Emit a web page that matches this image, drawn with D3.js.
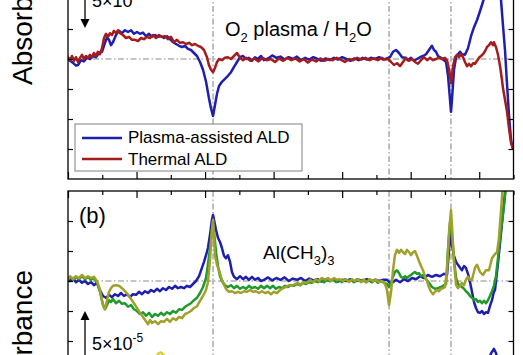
<!DOCTYPE html>
<html><head><meta charset="utf-8">
<script src="https://cdn.jsdelivr.net/npm/d3@7"></script>
<style>
html,body{margin:0;padding:0;background:#fff;overflow:hidden}
svg{display:block}
text{font-family:"Liberation Sans",Arial,Helvetica,sans-serif;fill:#000}
</style>
</head><body>
<svg id="chart" width="523" height="355"></svg>
<script>
// ---------- data ----------
const xDomain = [4000, 750];               // wavenumber (cm^-1)
const majorTicks = [4000, 3500, 3000, 2500, 2000, 1500, 1000];
const minorTicks = [3750, 3250, 2750, 2250, 1750, 1250, 750];
const yDomainA = [-10, 6.5];               // absorbance, units of 1e-5
const yDomainB = [-7.5, 7.5];
const yTicksA = [2.5, 0, -2.5, -5, -7.5];
const yTicksB = [5, 2.5, 0, -2.5, -5];
const markerWavenumbers = [2942, 1658, 1206];
const legendLabels = ["Plasma-assisted ALD", "Thermal ALD"];
const scaleBarLabel = "5\u00d710";
const scaleBarExp = "-5";

// panel (a): O2 plasma / H2O
const plasmaA = [[4000,0],[3985,-0.15],[3965,-0.3],[3942,-0.55],[3927,-0.5],[3905,-0.1],[3884,-0.2],[3862,0.1],[3840,0],[3818,0.25],[3796,0.15],[3774,0.5],[3752,0.6],[3730,1.35],[3715,1.8],[3701,1.6],[3686,1.15],[3672,1.4],[3650,2.0],[3628,2.35],[3606,2.15],[3584,2.4],[3562,2.25],[3540,2.4],[3519,2.1],[3497,2.25],[3475,2.1],[3453,2.2],[3431,1.9],[3409,2.1],[3387,1.85],[3365,2.0],[3343,1.85],[3322,1.9],[3300,1.75],[3278,1.9],[3256,1.65],[3234,1.4],[3212,1.25],[3190,1.1],[3168,1.0],[3146,1.1],[3125,0.85],[3103,0.75],[3081,0.5],[3059,0.25],[3037,-0.25],[3015,-0.9],[2993,-1.9],[2972,-3.25],[2957,-4.1],[2942,-4.75],[2928,-3.85],[2913,-2.9],[2898,-2.25],[2877,-1.9],[2855,-1.65],[2833,-1.4],[2811,-1.1],[2789,-0.65],[2767,-0.25],[2745,0.15],[2723,0.25],[2702,0],[2680,0.1],[2658,-0.15],[2636,0.15],[2614,0],[2592,0.25],[2570,-0.1],[2540,0.05],[2510,0.3],[2480,0.1],[2450,0.2],[2420,-0.05],[2390,0.15],[2360,0],[2330,0.2],[2300,-0.1],[2270,0.1],[2240,-0.05],[2210,0.15],[2180,0],[2150,-0.15],[2120,0.05],[2090,-0.1],[2060,0.1],[2030,-0.05],[2000,0.15],[1970,0],[1940,-0.15],[1910,0.05],[1880,-0.1],[1850,0.1],[1820,-0.05],[1790,0.1],[1760,0],[1730,0.15],[1700,-0.05],[1675,0.05],[1651,0.15],[1629,0.6],[1607,0.75],[1585,0.5],[1563,0.15],[1541,0.1],[1520,-0.1],[1498,0.1],[1476,-0.15],[1454,0],[1432,0.15],[1410,0.25],[1388,0.4],[1367,0.75],[1345,1.1],[1330,0.75],[1315,0.6],[1301,0.25],[1279,0.1],[1257,-0.1],[1242,-0.25],[1228,-1.35],[1213,-3.4],[1206,-4.4],[1199,-3.4],[1184,-0.9],[1169,0.15],[1155,0.4],[1140,0.6],[1126,0.4],[1104,0.35],[1082,0.9],[1060,1.9],[1038,2.65],[1016,3.25],[994,4.0],[973,4.75],[951,5.6],[922,6.6],[893,7.0],[863,6.25],[841,4.9],[827,2.85],[812,0.75],[797,-2.15],[783,-4.65],[768,-6.75],[757,-7.4]];

const thermalA = [[4000,0.15],[3985,-0.1],[3971,0.25],[3956,-0.15],[3942,0.15],[3927,-0.25],[3912,0.1],[3898,0.35],[3884,0],[3869,0.25],[3854,0.1],[3840,0.35],[3825,0.15],[3811,0.5],[3796,0.25],[3782,0.6],[3767,0.4],[3752,0.9],[3737,1.75],[3723,2.1],[3708,1.85],[3694,2.15],[3679,2.0],[3665,2.35],[3650,2.15],[3635,2.4],[3621,2.15],[3599,2.0],[3577,1.75],[3555,1.85],[3533,1.6],[3511,1.6],[3489,1.5],[3467,1.75],[3446,1.65],[3424,1.85],[3402,1.75],[3380,2.0],[3358,1.75],[3336,2.0],[3314,1.85],[3292,1.9],[3271,1.65],[3249,1.85],[3227,1.4],[3205,1.6],[3183,1.35],[3161,1.4],[3139,1.25],[3117,1.35],[3095,1.15],[3074,1.25],[3052,1.1],[3030,1.0],[3008,0.75],[2986,0.15],[2972,-0.5],[2957,-0.9],[2942,-1.1],[2928,-0.75],[2913,-0.25],[2898,0],[2877,-0.1],[2855,0.1],[2833,0.15],[2811,0],[2789,0.25],[2767,0.5],[2745,0.1],[2723,-0.1],[2700,0.1],[2670,-0.15],[2640,0.05],[2610,-0.2],[2580,0.1],[2550,-0.1],[2520,0],[2490,-0.25],[2460,0.05],[2430,-0.15],[2400,0.1],[2370,-0.1],[2340,0.05],[2310,-0.2],[2280,0],[2250,-0.3],[2220,-0.05],[2190,-0.2],[2160,0.05],[2130,-0.15],[2100,0],[2070,-0.1],[2040,0.1],[2010,-0.05],[1980,-0.25],[1950,0],[1920,-0.1],[1890,0.1],[1860,-0.05],[1830,0.1],[1800,-0.1],[1770,0.05],[1740,-0.1],[1710,0.1],[1690,-0.05],[1665,0],[1643,-0.25],[1622,-0.5],[1600,-0.35],[1578,-0.6],[1556,-0.25],[1534,0.1],[1512,-0.15],[1490,0],[1469,-0.25],[1447,-0.4],[1425,-0.1],[1403,0.15],[1381,-0.1],[1359,0.1],[1337,-0.1],[1315,0],[1293,0.1],[1271,0],[1250,0.1],[1235,-0.1],[1220,-0.9],[1206,-2.0],[1191,-0.6],[1177,0.15],[1162,0.35],[1147,0.15],[1133,0.4],[1118,0.15],[1104,-0.25],[1089,-0.6],[1075,-0.4],[1060,-0.6],[1045,-0.35],[1031,-0.4],[1016,-0.15],[1002,0.1],[987,0.25],[973,0.4],[958,0.65],[943,1.0],[929,1.15],[914,1.4],[900,1.15],[893,1.4],[878,1.0],[863,0.35],[848,-0.6],[834,-1.75],[827,-2.4],[812,-3.4],[797,-4.4],[783,-5.75],[768,-7.0],[757,-7.35]];

// panel (b): Al(CH3)3
const plasmaB = [[4000,0.15],[3985,0],[3963,0.25],[3942,-0.1],[3920,0.1],[3898,-0.15],[3876,0],[3854,-0.25],[3832,-0.1],[3811,-0.35],[3789,-0.15],[3767,-0.75],[3745,-1.25],[3723,-1.4],[3701,-1.15],[3679,-1.35],[3657,-1.1],[3635,-1.25],[3613,-1.0],[3592,-1.25],[3570,-1.1],[3548,-1.35],[3526,-1.1],[3504,-1.15],[3482,-0.9],[3460,-1.1],[3438,-0.85],[3416,-1.0],[3394,-0.75],[3373,-0.9],[3351,-0.65],[3329,-0.85],[3307,-0.6],[3285,-0.75],[3263,-0.5],[3241,-0.65],[3219,-0.4],[3198,-0.6],[3176,-0.5],[3154,-0.6],[3132,-0.4],[3110,-0.5],[3088,-0.25],[3066,0],[3044,0.4],[3023,1.1],[3008,1.6],[2993,2.15],[2979,2.75],[2964,3.85],[2950,5.1],[2942,5.5],[2935,5.1],[2920,4.25],[2906,3.6],[2891,3.25],[2877,2.75],[2862,2.1],[2848,1.9],[2833,2.15],[2818,1.6],[2804,0.75],[2789,0.35],[2767,0.15],[2745,0.4],[2723,0.15],[2702,0.35],[2680,0.1],[2658,0.35],[2636,0.1],[2614,0.25],[2592,0],[2570,0.1],[2540,0.3],[2510,0.05],[2480,0.25],[2450,0.1],[2420,0.3],[2390,0],[2360,0.2],[2330,0.1],[2300,0.25],[2270,0],[2240,0.2],[2210,0.05],[2180,0.15],[2150,-0.05],[2120,0.15],[2090,0],[2060,0.15],[2030,-0.05],[2000,0.1],[1970,0],[1940,0.15],[1910,-0.05],[1880,0.1],[1850,0],[1820,0.15],[1790,-0.05],[1760,0.1],[1730,0],[1700,0.1],[1673,0.1],[1651,-0.15],[1629,-0.1],[1607,0.1],[1578,-0.1],[1549,0.15],[1520,0],[1490,0.25],[1461,0.15],[1432,0.4],[1403,0.25],[1374,0.5],[1345,0.35],[1315,0.5],[1286,0.4],[1257,0.6],[1235,0.5],[1220,2.6],[1213,4.1],[1199,3.0],[1184,2.1],[1169,1.6],[1155,1.35],[1140,1.1],[1126,0.9],[1111,1.25],[1097,1.1],[1082,0.6],[1067,-0.1],[1053,-0.9],[1038,-1.75],[1024,-2.25],[1009,-2.6],[994,-2.65],[980,-2.5],[965,-2.75],[951,-2.6],[936,-2.65],[922,-2.1],[907,-1.6],[893,-0.9],[885,-0.75],[863,1.5],[834,4.8],[812,7.3],[798,9.0]];

const greenB = [[4000,0.1],[3985,0.35],[3963,0.1],[3942,0.35],[3920,0.15],[3898,0.4],[3876,0.15],[3854,0.35],[3832,0.1],[3811,0.25],[3789,-0.1],[3767,-0.9],[3745,-2.0],[3730,-2.35],[3715,-2.0],[3701,-1.6],[3686,-1.75],[3672,-1.5],[3650,-1.85],[3628,-1.65],[3606,-1.9],[3584,-1.85],[3562,-2.15],[3540,-2.0],[3519,-2.35],[3497,-2.5],[3475,-2.75],[3453,-2.6],[3431,-2.9],[3409,-2.65],[3387,-3.0],[3365,-2.75],[3343,-2.9],[3322,-2.65],[3300,-2.85],[3278,-2.6],[3256,-2.75],[3234,-2.5],[3212,-2.65],[3190,-2.35],[3168,-2.4],[3146,-2.15],[3125,-2.0],[3103,-1.85],[3081,-1.6],[3059,-1.4],[3037,-1.0],[3015,-0.5],[2993,0.25],[2979,1.35],[2964,2.75],[2950,4.25],[2942,4.75],[2935,4.1],[2920,2.4],[2906,1.25],[2891,0.4],[2877,0],[2855,-0.35],[2833,-0.5],[2811,-0.35],[2789,-0.6],[2767,-0.4],[2745,-0.65],[2723,-0.5],[2702,-0.65],[2680,-0.4],[2658,-0.6],[2636,-0.5],[2614,-0.65],[2592,-0.4],[2570,-0.6],[2548,-0.4],[2526,-0.6],[2504,-0.4],[2483,-0.65],[2461,-0.5],[2439,-0.6],[2417,-0.4],[2395,-0.5],[2373,-0.35],[2351,-0.4],[2329,-0.25],[2308,-0.35],[2286,-0.15],[2264,-0.25],[2242,-0.1],[2220,-0.15],[2198,0],[2176,-0.1],[2154,0.1],[2132,-0.1],[2111,0.1],[2089,0],[2067,0.15],[2045,-0.1],[2023,0.1],[2001,-0.1],[1979,0.15],[1957,0],[1935,0.1],[1914,-0.1],[1892,0.15],[1870,0],[1848,0.1],[1826,-0.1],[1804,0.1],[1782,-0.1],[1760,0.1],[1739,-0.15],[1717,0],[1695,-0.15],[1673,-0.25],[1658,-0.5],[1643,-0.1],[1629,0.35],[1615,0.75],[1600,0.9],[1585,0.65],[1571,0.35],[1556,0.25],[1541,0.4],[1527,0.25],[1512,0.4],[1498,0.5],[1483,0.65],[1469,0.75],[1454,0.6],[1439,0.65],[1425,0.4],[1410,0.5],[1388,0.15],[1367,-0.15],[1345,-0.5],[1323,-0.65],[1301,-0.6],[1279,-0.5],[1257,-0.35],[1242,-0.25],[1228,2.6],[1213,4.9],[1206,5.1],[1199,3.85],[1184,1.75],[1169,0.25],[1155,-0.25],[1140,-0.4],[1126,-0.5],[1111,-0.65],[1097,-0.85],[1082,-1.0],[1067,-1.25],[1053,-1.4],[1038,-1.6],[1024,-1.5],[1009,-1.75],[994,-1.65],[980,-1.85],[965,-1.65],[951,-1.85],[936,-1.6],[922,-1.25],[907,-0.85],[893,-0.4],[878,0.4],[863,1.9],[848,3.6],[834,4.9],[819,6.35],[805,7.9],[795,9.0]];

const oliveB = [[4000,0.15],[3985,0.4],[3963,0.15],[3942,0.4],[3920,0.25],[3898,0.5],[3876,0.25],[3854,0.4],[3832,0.25],[3811,0.35],[3789,0],[3767,-0.75],[3752,-1.6],[3737,-2.25],[3730,-2.35],[3715,-1.6],[3701,-0.9],[3686,-0.6],[3672,-0.4],[3650,-0.35],[3628,-0.4],[3606,-0.6],[3584,-0.85],[3562,-1.15],[3540,-1.5],[3519,-1.85],[3497,-2.25],[3475,-2.65],[3453,-3.0],[3431,-3.35],[3416,-3.6],[3402,-3.25],[3387,-3.5],[3365,-3.35],[3343,-3.6],[3322,-3.35],[3300,-3.4],[3278,-3.15],[3256,-3.4],[3234,-3.1],[3212,-3.25],[3190,-3.0],[3168,-3.1],[3146,-2.75],[3125,-2.65],[3103,-2.5],[3081,-2.25],[3059,-2.1],[3037,-1.65],[3015,-1.25],[2993,-0.75],[2979,-0.1],[2964,1.75],[2950,4.25],[2942,5.1],[2935,3.85],[2928,2.15],[2913,1.35],[2898,0.9],[2884,0.35],[2869,-0.15],[2848,-0.65],[2826,-0.9],[2804,-0.85],[2782,-1.0],[2760,-0.9],[2738,-1.0],[2716,-0.85],[2694,-0.9],[2672,-0.75],[2651,-0.9],[2629,-0.85],[2607,-1.0],[2585,-0.85],[2563,-1.0],[2541,-0.9],[2519,-1.1],[2497,-0.9],[2475,-1.0],[2453,-0.75],[2431,-0.6],[2410,-0.5],[2388,-0.35],[2366,-0.4],[2344,-0.25],[2322,-0.15],[2300,-0.35],[2278,-0.1],[2257,-0.15],[2235,0.1],[2213,-0.1],[2191,0.15],[2169,0],[2147,0.25],[2125,0.1],[2103,0.25],[2081,0],[2060,0.25],[2038,0.1],[2016,0.15],[1994,0],[1972,0.15],[1950,-0.1],[1928,0.15],[1906,0],[1884,0.15],[1863,-0.1],[1841,0.1],[1819,-0.1],[1797,0.15],[1775,0],[1753,0.1],[1731,-0.1],[1709,0],[1687,-0.25],[1673,-0.75],[1658,-2.0],[1643,-0.9],[1629,0.9],[1615,2.15],[1600,2.6],[1585,2.35],[1571,2.6],[1556,2.4],[1541,2.25],[1527,2.6],[1512,2.4],[1498,2.15],[1483,2.4],[1469,2.5],[1454,2.1],[1439,1.65],[1425,1.25],[1410,0.9],[1396,0.4],[1381,0],[1367,-0.5],[1352,-0.9],[1337,-1.1],[1323,-0.9],[1308,-0.75],[1293,-0.85],[1279,-0.65],[1264,-0.6],[1250,-0.5],[1235,0.9],[1220,4.1],[1206,5.9],[1199,4.65],[1184,1.6],[1169,-0.35],[1155,-0.6],[1140,-0.4],[1126,-0.15],[1111,-0.35],[1097,0.1],[1082,0.35],[1067,0.1],[1053,0.1],[1031,1.1],[1016,1.35],[994,0.75],[973,0.5],[951,0.9],[929,0.9],[907,1.9],[885,2.25],[870,2.4],[856,3.6],[841,5.9],[827,8.0],[815,9.0]];

// visible tops of lower (offset) traces
const lowerBlue = [[965,-8.0],[929,-6.4],[907,-5.9],[893,-5.65],[878,-6.0],[863,-6.6],[840,-8.0]];
const lowerYellow = [[3380,-7.5],[3343,-6.05],[3322,-5.95],[3300,-6.2],[3260,-7.5]];

// ---------- drawing ----------
const svg = d3.select("#chart");
const L = 68, R = 513.5;
const x = d3.scaleLinear().domain(xDomain).range([L, R]);
const yA = d3.scaleLinear().domain(yDomainA).range([179, -19]);
const yB = d3.scaleLinear().domain(yDomainB).range([371, 191]);

const COL = {blue:"#1f1fae", red:"#a41c1c", green:"#1f9a2b", olive:"#a0a02a", yellow:"#d8cf35"};

const defs = svg.append("defs");
defs.append("clipPath").attr("id","clipA").append("rect")
  .attr("x",L).attr("y",yA(yDomainA[1])).attr("width",R-L).attr("height",yA(yDomainA[0])-yA(yDomainA[1]));
defs.append("clipPath").attr("id","clipB").append("rect")
  .attr("x",L).attr("y",yB(yDomainB[1])).attr("width",R-L).attr("height",yB(yDomainB[0])-yB(yDomainB[1]));

function panel(yScale, yDomain, yTicks, clipId, seriesList, topAxis) {
  const g = svg.append("g");
  const plot = g.append("g").attr("clip-path", `url(#${clipId})`);
  plot.selectAll("line.v").data(markerWavenumbers).enter().append("line")
    .attr("x1", d => x(d)).attr("x2", d => x(d))
    .attr("y1", yScale(yDomain[1])).attr("y2", yScale(yDomain[0]))
    .attr("stroke", "#8a8a8a").attr("stroke-width", 1.1).attr("stroke-dasharray", "6,2.5,1.5,2.5");
  plot.append("line").attr("x1", L).attr("x2", R).attr("y1", yScale(0)).attr("y2", yScale(0))
    .attr("stroke", "#8a8a8a").attr("stroke-width", 1.1).attr("stroke-dasharray", "6,2.5,1.5,2.5");
  const line = d3.line().x(d => x(d[0])).y(d => yScale(d[1]));
  seriesList.forEach(s => {
    plot.append("path").datum(s.data).attr("d", line)
      .attr("fill", "none").attr("stroke", s.color).attr("stroke-width", 2.5)
      .attr("stroke-linejoin", "round").attr("stroke-linecap", "round");
  });
  g.append("rect").attr("x", L).attr("y", yScale(yDomain[1])).attr("width", R - L)
    .attr("height", yScale(yDomain[0]) - yScale(yDomain[1]))
    .attr("fill", "none").attr("stroke", "#000").attr("stroke-width", 1.3);
  const strip = sel => { sel.select(".domain").remove(); sel.selectAll("line").attr("stroke","#000").attr("stroke-width",1.2); };
  if (topAxis) {
    const yEdge = yScale(yDomain[1]);
    g.append("g").attr("transform", `translate(0,${yEdge})`)
      .call(d3.axisTop(x).tickValues(majorTicks).tickSize(-7).tickFormat("")).call(strip);
    g.append("g").attr("transform", `translate(0,${yEdge})`)
      .call(d3.axisTop(x).tickValues(minorTicks).tickSize(-4).tickFormat("")).call(strip);
  } else {
    const yEdge = yScale(yDomain[0]);
    g.append("g").attr("transform", `translate(0,${yEdge})`)
      .call(d3.axisBottom(x).tickValues(majorTicks).tickSize(-7).tickFormat("")).call(strip);
    g.append("g").attr("transform", `translate(0,${yEdge})`)
      .call(d3.axisBottom(x).tickValues(minorTicks).tickSize(-4).tickFormat("")).call(strip);
  }
  g.append("g").attr("transform", `translate(${L},0)`)
    .call(d3.axisLeft(yScale).tickValues(yTicks).tickSize(-5).tickFormat("")).call(strip);
  g.append("g").attr("transform", `translate(${R},0)`)
    .call(d3.axisRight(yScale).tickValues(yTicks).tickSize(-5).tickFormat("")).call(strip);
  return g;
}

panel(yA, yDomainA, yTicksA, "clipA", [
  {data: plasmaA, color: COL.blue},
  {data: thermalA, color: COL.red}
], false);

panel(yB, yDomainB, yTicksB, "clipB", [
  {data: lowerYellow, color: COL.yellow},
  {data: lowerBlue, color: COL.blue},
  {data: plasmaB, color: COL.blue},
  {data: greenB, color: COL.green},
  {data: oliveB, color: COL.olive}
], true);

// legend (panel a)
const lg = svg.append("g");
lg.append("rect").attr("x", 75).attr("y", 124).attr("width", 227).attr("height", 47)
  .attr("fill", "#fff").attr("stroke", "#808080").attr("stroke-width", 1);
[[COL.blue, 138, 143], [COL.red, 159, 165]].forEach((r, i) => {
  lg.append("line").attr("x1", 82).attr("x2", 122).attr("y1", r[1]).attr("y2", r[1])
    .attr("stroke", r[0]).attr("stroke-width", 2.5);
  lg.append("text").attr("x", 128).attr("y", r[2]).attr("font-size", 17).text(legendLabels[i]);
});

// y labels
svg.append("text").attr("transform", "translate(32,85) rotate(-90)")
  .attr("font-size", 28).attr("text-anchor", "start").text("Absorbance");
svg.append("text").attr("transform", "translate(32,270) rotate(-90)")
  .attr("font-size", 28).attr("text-anchor", "end").text("Absorbance");

// panel annotations
const t1 = svg.append("text").attr("x", 225).attr("y", 36).attr("font-size", 20);
t1.append("tspan").text("O");
t1.append("tspan").attr("font-size", 13).attr("dy", 6).text("2");
t1.append("tspan").attr("dy", -6).text(" plasma / H");
t1.append("tspan").attr("font-size", 13).attr("dy", 6).text("2");
t1.append("tspan").attr("dy", -6).text("O");

svg.append("text").attr("x", 79).attr("y", 223).attr("font-size", 22).text("(b)");

const t2 = svg.append("text").attr("x", 263).attr("y", 259).attr("font-size", 19);
t2.append("tspan").text("Al(CH");
t2.append("tspan").attr("font-size", 13).attr("dy", 6).text("3");
t2.append("tspan").attr("dy", -6).text(")");
t2.append("tspan").attr("font-size", 13).attr("dy", 6).text("3");

// scale bars
function scaleBar(xp, tipY, dir, labelY) {
  const g = svg.append("g");
  const base = tipY - dir * 9;
  g.append("line").attr("x1", xp).attr("x2", xp).attr("y1", base).attr("y2", base - dir * 70)
    .attr("stroke", "#000").attr("stroke-width", 1.3);
  g.append("path").attr("d", `M${xp},${tipY} L${xp-4.5},${base} L${xp+4.5},${base} Z`).attr("fill", "#000");
  const t = g.append("text").attr("x", xp + 7).attr("y", labelY).attr("font-size", 18);
  t.append("tspan").text(scaleBarLabel);
  t.append("tspan").attr("font-size", 12).attr("dy", -8).text(scaleBarExp);
}
scaleBar(85, 28, 1, 7);
scaleBar(85, 311, -1, 350);
</script>
</body></html>
